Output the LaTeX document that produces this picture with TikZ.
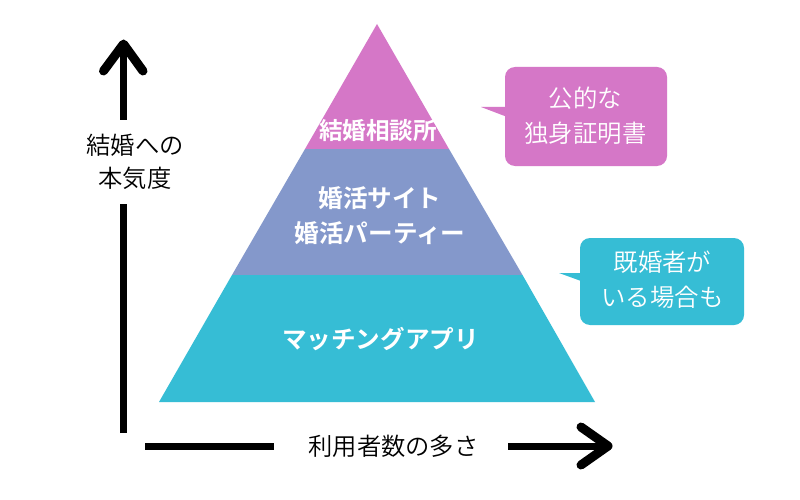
\documentclass[tikz,border=0pt]{standalone}
\usepackage{fontspec}
\setmainfont{Noto Sans CJK JP DemiLight}[BoldFont={Noto Sans CJK JP Bold}]
\definecolor{pinkc}{HTML}{D577C7}
\definecolor{bluec}{HTML}{8498CB}
\definecolor{cyanc}{HTML}{36BDD5}
\tikzset{
  band/.style={draw=none},
  lbl/.style={font=\fontsize{24.3}{33}\selectfont,text=black,align=center,inner sep=0pt},
  calltext/.style={font=\fontsize{24.4}{35}\selectfont,text=white,align=center,inner sep=0pt},
  pyr/.style={font=\bfseries\fontsize{24.6}{35}\selectfont,text=white,align=center,inner sep=0pt},
  shaft/.style={draw=black,line width=7pt},
  head/.style={draw=black,line width=9pt,line cap=round,line join=round}
}
\begin{document}
\begin{tikzpicture}[x=1pt,y=-1pt]
\useasboundingbox (0,0) rectangle (800,500);
\fill[white] (0,0) rectangle (800,500);
% pyramid
\fill[pinkc,band] (377,24) -- (449,149) -- (305,149) -- cycle;
\fill[bluec,band] (305,149) -- (449,149) -- (522.5,275) -- (232,275) -- cycle;
\fill[cyanc,band] (232,275) -- (522.5,275) -- (595,402) -- (159,402) -- cycle;
\node[pyr,font=\bfseries\fontsize{23.6}{26}\selectfont] (top) at (378,131) {結婚相談所};
\node[pyr] (mid) at (380,216) {婚活サイト\\婚活パーティー};
\node[pyr] (bot) at (380.5,339) {マッチングアプリ};
% callouts
\fill[pinkc,rounded corners=10pt] (505,67) rectangle (667,166);
\fill[pinkc] (481,107) -- (506,107) -- (506,116.5) -- cycle;
\node[calltext] (c1) at (585.5,116) {公的な\\独身証明書};
\fill[cyanc,rounded corners=10pt] (580,238) rectangle (744,325);
\fill[cyanc] (559,273) -- (581,273) -- (581,281) -- cycle;
\node[calltext] (c2) at (662.5,280) {既婚者が\\いる場合も};
% axes
\node[lbl] (ylab) at (135,161.5) {結婚への\\本気度};
\node[lbl] (xlab) at (393.5,446) {利用者数の多さ};
\coordinate (ya) at (123.5,433);
\coordinate (yb) at (123.5,204);
\coordinate (yc) at (123.5,120);
\coordinate (yd) at (123.5,46);
\coordinate (xa) at (145,446);
\coordinate (xb) at (273.5,446);
\coordinate (xc) at (508,446);
\coordinate (xd) at (606,446);
\draw[shaft] (ya) -- (yb);
\draw[shaft] (yc) -- (yd);
\draw[head] (103.5,71) -- (123.5,44) -- (143,71);
\draw[shaft] (xa) -- (xb);
\draw[shaft] (xc) -- (xd);
\draw[head] (581,427) -- (608,446) -- (581,465);
\end{tikzpicture}
\end{document}
